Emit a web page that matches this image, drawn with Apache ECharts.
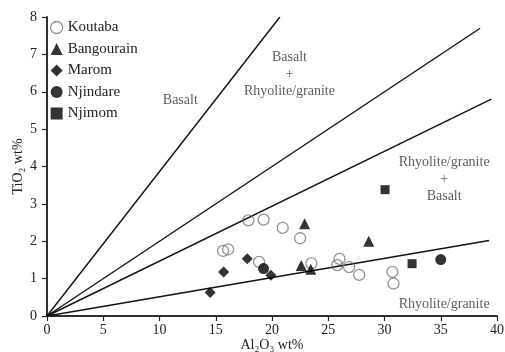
<!DOCTYPE html>
<html><head><meta charset="utf-8">
<script src="https://cdn.jsdelivr.net/npm/echarts@6/dist/echarts.min.js"></script>
<style>html,body{margin:0;padding:0;background:#fff}#c{width:505px;height:352px}</style>
</head><body><div id="c"></div>
<script>
var koutaba = [[17.9,2.56],[19.25,2.58],[20.95,2.36],[22.5,2.08],[15.65,1.74],[16.1,1.78],[18.85,1.45],[23.5,1.41],[25.8,1.36],[26.0,1.53],[26.85,1.31],[27.75,1.10],[30.7,1.18],[30.8,0.87]];
var bangourain = [[22.9,2.47],[28.6,2.0],[22.6,1.35],[23.45,1.25]];
var marom = [[14.5,0.63],[15.7,1.18],[17.8,1.53],[19.9,1.09]];
var njindare = [[19.25,1.27],[35.0,1.51]];
var njimom = [[30.05,3.38],[32.45,1.40]];
var line1 = [[0,0],[20.7,8]];
var line2 = [[0,0],[38.5,7.7]];
var line3 = [[0,0],[39.5,5.8]];
var line4 = [[0,0],[39.3,2.02]];
var fieldLabels = [
  {value:[11.85,5.77], text:'Basalt'},
  {value:[21.55,6.47], text:'Basalt\n+\nRhyolite/granite'},
  {value:[35.3,3.65], text:'Rhyolite/granite\n+\nBasalt'},
  {value:[35.3,0.31], text:'Rhyolite/granite'}
];
var xTicks = [0,5,10,15,20,25,30,35,40];
var yTicks = [0,1,2,3,4,5,6,7,8];

var serif = '"Liberation Serif","DejaVu Serif",serif';
var chart = echarts.init(document.getElementById('c'), null, {renderer:'canvas'});
function lineSeries(name, data){
  return {name:name, type:'line', data:data, symbol:'none', silent:true,
    lineStyle:{color:'#111', width:1.4}, z:1, animation:false};
}
var axisCommon = {
  axisLine:{show:true, lineStyle:{color:'#222', width:1.5}},
  axisTick:{show:true, inside:false, length:5, lineStyle:{color:'#222', width:1.2}},
  splitLine:{show:false}
};
chart.setOption({
  animation:false,
  backgroundColor:'#fff',
  grid:{left:47, right:8, top:17, bottom:36, containLabel:false, outerBoundsMode:'none'},
  legend:{
    orient:'vertical', left:45, top:15, itemWidth:12, itemHeight:12, itemGap:6.5,
    textStyle:{fontFamily:serif, fontSize:15, color:'#222'},
    data:[
      {name:'Koutaba', icon:'circle', itemStyle:{color:'#fff', borderColor:'#777', borderWidth:1.3}},
      {name:'Bangourain', icon:'triangle'},
      {name:'Marom', icon:'diamond'},
      {name:'Njindare', icon:'circle'},
      {name:'Njimom', icon:'rect'}
    ]
  },
  xAxis:[Object.assign({
    type:'value', min:0, max:40, interval:5, position:'bottom',
    name:'Al\u2082O\u2083 wt%', nameLocation:'middle', nameGap:22, nameMoveOverlap:false,
    nameTextStyle:{fontFamily:serif, fontSize:14, color:'#222'},
    axisLabel:{fontFamily:serif, fontSize:14, color:'#222', margin:7,
      formatter:function(v){return xTicks.indexOf(v)>=0? String(v):'';}}
  }, axisCommon),
  Object.assign({type:'value', min:0, max:40, interval:5, position:'top', axisLabel:{show:false}}, axisCommon, {axisTick:{show:false}})],
  yAxis:[Object.assign({
    type:'value', min:0, max:8, interval:1, position:'left',
    name:'TiO\u2082 wt%', nameLocation:'middle', nameGap:22, nameRotate:90, nameMoveOverlap:false,
    nameTextStyle:{fontFamily:serif, fontSize:14, color:'#222'},
    axisLabel:{fontFamily:serif, fontSize:14, color:'#222', margin:10,
      formatter:function(v){return yTicks.indexOf(v)>=0? String(v):'';}}
  }, axisCommon),
  Object.assign({type:'value', min:0, max:8, interval:1, position:'right', axisLabel:{show:false}}, axisCommon, {axisTick:{show:false}})],
  series:[
    lineSeries('l1', line1), lineSeries('l2', line2), lineSeries('l3', line3), lineSeries('l4', line4),
    {name:'Koutaba', type:'scatter', data:koutaba, symbol:'circle', symbolSize:11, z:3,
      itemStyle:{color:'rgba(255,255,255,0)', borderColor:'#777', borderWidth:1.3}},
    {name:'Bangourain', type:'scatter', data:bangourain, symbol:'triangle', symbolSize:11, z:4, itemStyle:{color:'#000'}},
    {name:'Marom', type:'scatter', data:marom, symbol:'diamond', symbolSize:11, z:4, itemStyle:{color:'#000'}},
    {name:'Njindare', type:'scatter', data:njindare, symbol:'circle', symbolSize:11, z:4, itemStyle:{color:'#000'}},
    {name:'Njimom', type:'scatter', data:njimom, symbol:'rect', symbolSize:9, z:4, itemStyle:{color:'#000'}},
    {name:'fields', type:'scatter', silent:true, symbolSize:0, z:5,
      data:fieldLabels.map(function(d){return {value:d.value, label:{formatter:d.text}};}),
      label:{show:true, position:'inside', fontFamily:serif, fontSize:14, color:'#333', lineHeight:17, align:'center', verticalAlign:'middle'}}
  ]
});
</script></body></html>
